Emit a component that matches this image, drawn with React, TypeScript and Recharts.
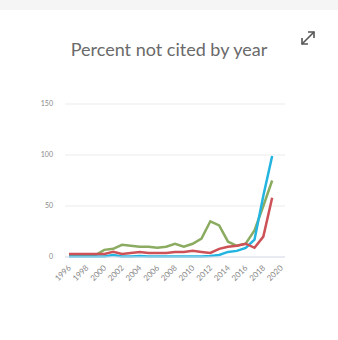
import React from "react";
import { LineChart, Line, XAxis, YAxis, CartesianGrid } from "recharts";

const years = [1996, 1997, 1998, 1999, 2000, 2001, 2002, 2003, 2004, 2005, 2006, 2007, 2008, 2009, 2010, 2011, 2012, 2013, 2014, 2015, 2016, 2017, 2018, 2019];
const greenSeries = [2, 2, 2, 2, 7, 8, 12, 11, 10, 10, 9, 10, 13, 10, 13, 18, 35, 31, 15, 11, 13, 26, 50, 75];
const redSeries = [3, 3, 3, 3, 3, 5, 3, 4, 5, 4, 4, 4, 5, 5, 6, 5, 4, 8, 10, 11, 13, 9, 20, 58];
const blueSeries = [0.5, 0.5, 0.5, 0.5, 0.5, 2, 0.5, 0.5, 1, 0.5, 0.5, 0.5, 0.5, 0.5, 0.5, 0.5, 1, 2, 5, 6, 9, 17, 60, 99];
const xTicks = [1996, 1998, 2000, 2002, 2004, 2006, 2008, 2010, 2012, 2014, 2016, 2018, 2020];
const yTicks = [0, 50, 100, 150];

const data = years.map((y, i) => ({ year: y, green: greenSeries[i], red: redSeries[i], blue: blueSeries[i] }));

const XTick = (props: any) => {
  const { x, y, payload } = props;
  return (
    <text x={x + 1} y={y + 1} transform={`rotate(-45, ${x + 1}, ${y + 1})`} textAnchor="end" dominantBaseline="middle" fontSize={8} fill="#888" fontFamily="Lato, sans-serif">
      {payload.value}
    </text>
  );
};

export default function App() {
  return (
    <div style={{ position: "absolute", left: 0, top: 0, width: 338, height: 340, background: "#fff", fontFamily: "Lato, sans-serif" }}>
      <div style={{ position: "absolute", left: 0, top: 0, width: 338, height: 10, background: "#f5f5f5" }} />
      <div style={{ position: "absolute", left: 0, top: 38, width: 338, textAlign: "center", fontSize: 18, color: "#6a6a6a", fontFamily: "Lato, sans-serif", fontWeight: 400 }}>
        Percent not cited by year
      </div>
      <svg style={{ position: "absolute", left: 298, top: 28 }} width={20} height={20} viewBox="0 0 20 20">
        <g stroke="#555" strokeWidth={1.6} fill="none">
          <line x1={4} y1={16} x2={16} y2={4} />
          <polyline points="10,4 16,4 16,10" />
          <polyline points="4,10 4,16 10,16" />
        </g>
      </svg>
      <div style={{ position: "absolute", left: 0, top: 0 }}>
        <LineChart width={338} height={340} data={data} margin={{ top: 104, right: 53, left: 35, bottom: 43 }}>
          <CartesianGrid vertical={false} stroke="#ebebeb" />
          <XAxis
            dataKey="year"
            type="number"
            domain={[1996, 2020]}
            ticks={xTicks}
            interval={0}
            padding={{ left: 4, right: 4 }}
            height={40}
            tickLine={false}
            stroke="#dde0ee"
            tick={<XTick />}
            tickMargin={3}
          />
          <YAxis
            domain={[0, 150]}
            ticks={yTicks}
            width={30}
            axisLine={false}
            tickLine={false}
            tickMargin={6}
            tick={{ fontSize: 7, fill: "#888", fontFamily: "Lato, sans-serif" }}
          />
          <Line type="linear" dataKey="green" stroke="#8aab60" strokeWidth={2.5} dot={false} isAnimationActive={false} />
          <Line type="linear" dataKey="blue" stroke="#23b4e0" strokeWidth={2.5} dot={false} isAnimationActive={false} />
          <Line type="linear" dataKey="red" stroke="#cc5257" strokeWidth={2.5} dot={false} isAnimationActive={false} />
        </LineChart>
      </div>
    </div>
  );
}
